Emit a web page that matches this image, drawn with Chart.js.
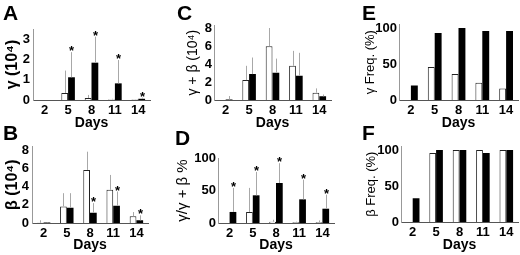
<!DOCTYPE html>
<html>
<head>
<meta charset="utf-8">
<script src="https://cdn.jsdelivr.net/npm/chart.js@4.4.1/dist/chart.umd.min.js"></script>
<style>
  html, body { margin: 0; padding: 0; background: #fff; }
  body { width: 520px; height: 255px; position: relative; overflow: hidden; }
  canvas { position: absolute; }
</style>
</head>
<body>
<canvas id="pA" width="172" height="134" style="left:0;top:0"></canvas>
<canvas id="pB" width="172" height="135" style="left:0;top:120px"></canvas>
<canvas id="pC" width="172" height="134" style="left:172px;top:0"></canvas>
<canvas id="pD" width="172" height="135" style="left:172px;top:120px"></canvas>
<canvas id="pE" width="176" height="134" style="left:344px;top:0"></canvas>
<canvas id="pF" width="176" height="135" style="left:344px;top:120px"></canvas>
<script>
// data
const days = ['2', '5', '8', '11', '14'];

// A: gamma (10^4)
const gammaOpen = [0, 0.35, 0.1, 0.03, 0.02];
const gammaOpenSd = [0, 1.1, 0.15, 0.03, 0.01];
const gammaFilled = [0, 1.12, 1.84, 0.82, 0.06];
const gammaFilledSd = [0, 1.24, 1.28, 1.15, 0.06];
const gammaStars = [0, 1, 1, 1, 1];

// B: beta (10^4)
const betaOpen = [0.02, 1.82, 5.82, 3.64, 0.73];
const betaOpenSd = [0.28, 1.45, 2.0, 1.63, 0.47];
const betaFilled = [0.05, 1.67, 1.13, 1.89, 0.29];
const betaFilledSd = [0.05, 1.6, 1.05, 1.56, 0.55];
const betaStars = [0, 0, 1, 1, 1];

// C: gamma + beta (10^4)
const sumOpen = [0, 2.21, 5.98, 3.8, 0.81];
const sumOpenSd = [0, 1.59, 2.02, 1.66, 0.48];
const sumFilled = [0.05, 2.88, 3.03, 2.69, 0.41];
const sumFilledSd = [0.39, 1.84, 1.57, 2.55, 0.2];

// D: gamma / (gamma + beta) %
const ratioOpen = [0, 17, 2, 1, 1];
const ratioOpenSd = [0, 37, 3, 1, 3];
const ratioFilled = [17, 42.6, 61.5, 36.4, 22];
const ratioFilledSd = [37, 36, 30.5, 30.3, 21.6];
const ratioStars = [1, 1, 1, 1, 1];

// E, F: frequencies (%)
const gammaFreqOpen = [0, 46, 36, 24, 16];
const gammaFreqFilled = [20, 93, 100, 96, 96];
const betaFreqOpen = [0, 96, 100, 100, 100];
const betaFreqFilled = [33, 100, 100, 96, 100];

// tick labels
const ticksGamma = [0, 1, 2, 3];
const ticksBeta = [0, 2, 4, 6, 8];
const ticksPct = [0, 50, 100];

const FONT = '"Liberation Sans", Arial, sans-serif';
Chart.defaults.font.family = FONT;
Chart.defaults.color = '#000';

// error bars, asterisks and the panel letter
const decor = {
  id: 'decor',
  afterDatasetsDraw(chart, args, opts) {
    const {ctx} = chart;
    const yScale = chart.scales.y;
    ctx.save();
    chart.data.datasets.forEach((ds, i) => {
      if (!ds.sd) return;
      chart.getDatasetMeta(i).data.forEach((bar, j) => {
        const x = Math.round(bar.x) + 0.5;
        const top = yScale.getPixelForValue(ds.data[j] + ds.sd[j]);
        if (ds.sd[j] > 0) {
          ctx.strokeStyle = '#a8a8a8';
          ctx.lineWidth = 1;
          ctx.beginPath();
          ctx.moveTo(x, bar.y);
          ctx.lineTo(x, top);
          ctx.stroke();
        }
        if (ds.stars && ds.stars[j]) {
          ctx.fillStyle = '#000';
          ctx.font = 'bold 13px ' + FONT;
          ctx.textAlign = 'center';
          ctx.textBaseline = 'alphabetic';
          ctx.fillText('*', x, top + 3);
        }
      });
    });
    ctx.fillStyle = '#000';
    ctx.font = 'bold 21px ' + FONT;
    ctx.textAlign = 'left';
    ctx.textBaseline = 'alphabetic';
    ctx.fillText(opts.letter, opts.lx, opts.ly);
    ctx.restore();
  }
};

function makePanel(id, p) {
  const cv = document.getElementById(id);
  return new Chart(cv, {
    type: 'bar',
    data: {
      labels: days,
      datasets: [
        {data: p.open, sd: p.openSd, backgroundColor: '#fff', borderColor: '#222', borderWidth: 1},
        {data: p.filled, sd: p.filledSd, stars: p.stars, backgroundColor: '#000', borderWidth: 0}
      ]
    },
    options: {
      responsive: false,
      animation: false,
      layout: {padding: {left: 0, top: p.top, right: cv.width - p.right, bottom: 0}},
      datasets: {bar: {categoryPercentage: 0.58, barPercentage: 1}},
      plugins: {
        legend: {display: false},
        tooltip: {enabled: false},
        decor: {letter: p.letter, lx: p.lx, ly: p.ly}
      },
      scales: {
        x: {
          grid: {display: false, drawTicks: false},
          border: {color: '#555', width: 1},
          ticks: {font: {size: 13, weight: 'bold'}, padding: 3, maxRotation: 0, autoSkip: false},
          title: {display: true, text: 'Days', font: {size: 14, weight: 'bold'}, padding: {top: 0, bottom: p.daysPad}},
          afterFit: s => { s.height = cv.height - p.bottom; }
        },
        y: {
          min: 0,
          max: p.max,
          afterBuildTicks: s => { s.ticks = p.ticks.map(v => ({value: v})); },
          grid: {display: false, drawTicks: false},
          border: {color: '#999', width: 1},
          ticks: {font: {size: 13, weight: 'bold'}, padding: p.tickPad},
          title: {display: true, text: p.title, font: {size: p.titleSize, weight: p.titleWeight},
                  padding: {top: p.titlePad, bottom: 0}},
          afterFit: s => { s.width = p.left; }
        }
      }
    },
    plugins: [decor]
  });
}

makePanel('pA', {
  open: gammaOpen, openSd: gammaOpenSd, filled: gammaFilled, filledSd: gammaFilledSd, stars: gammaStars,
  max: 3.5, ticks: ticksGamma, title: 'γ (10⁴)', titleSize: 16, titleWeight: 'bold', titlePad: 3,
  left: 33, top: 29, right: 150, bottom: 100, tickPad: 3, daysPad: 2.6, letter: 'A', lx: 3, ly: 20
});
makePanel('pB', {
  open: betaOpen, openSd: betaOpenSd, filled: betaFilled, filledSd: betaFilledSd, stars: betaStars,
  max: 8.4, ticks: ticksBeta, title: 'β (10⁴)', titleSize: 16, titleWeight: 'bold', titlePad: 3,
  left: 32, top: 26.4, right: 148, bottom: 103, tickPad: 3, daysPad: 1.6, letter: 'B', lx: 3, ly: 20
});
makePanel('pC', {
  open: sumOpen, openSd: sumOpenSd, filled: sumFilled, filledSd: sumFilledSd,
  max: 8.3, ticks: ticksBeta, title: 'γ + β (10⁴)', titleSize: 14, titleWeight: 'normal', titlePad: 12.6,
  left: 42, top: 25.3, right: 159, bottom: 100, tickPad: 2, daysPad: 2.6, letter: 'C', lx: 5, ly: 20
});
makePanel('pD', {
  open: ratioOpen, openSd: ratioOpenSd, filled: ratioFilled, filledSd: ratioFilledSd, stars: ratioStars,
  max: 100, ticks: ticksPct, title: 'γ/γ + β %', titleSize: 15, titleWeight: 'normal', titlePad: 1.5,
  left: 46, top: 38, right: 162, bottom: 103, tickPad: 2, daysPad: 1.6, letter: 'D', lx: 3, ly: 25
});
makePanel('pE', {
  open: gammaFreqOpen, filled: gammaFreqFilled,
  max: 105, ticks: ticksPct, title: 'γ Freq. (%)', titleSize: 13, titleWeight: 'normal', titlePad: 18.2,
  left: 55, top: 24.4, right: 174, bottom: 100, tickPad: 2, daysPad: 2.6, letter: 'E', lx: 18, ly: 20
});
makePanel('pF', {
  open: betaFreqOpen, filled: betaFreqFilled,
  max: 105, ticks: ticksPct, title: 'β Freq. (%)', titleSize: 13, titleWeight: 'normal', titlePad: 19.2,
  left: 57, top: 26.4, right: 174, bottom: 102, tickPad: 2, daysPad: 1.6, letter: 'F', lx: 18, ly: 20
});
</script>
</body>
</html>
